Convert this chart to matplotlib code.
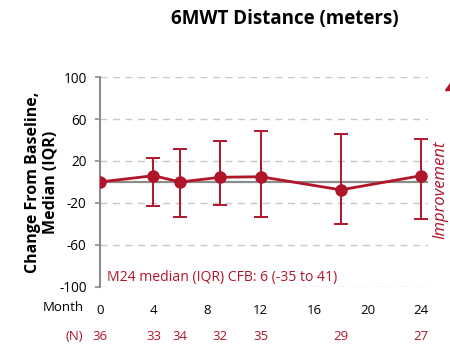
import numpy as np
import matplotlib.pyplot as plt

plt.rcParams['font.family'] = ['Open Sans', 'DejaVu Sans']
plt.rcParams['axes.unicode_minus'] = False

# data
months = [0, 4, 6, 9, 12, 18, 24]
median = [0, 6, 0, 4.5, 5, -7.5, 6]
q1 = [0, -23, -33, -21.5, -33, -40.5, -35]
q3 = [0, 22.5, 31, 39, 48.5, 46, 41]
n_pts = [36, 33, 34, 32, 35, 29, 27]
xticks = [0, 4, 8, 12, 16, 20, 24]
yticks = [-100, -60, -20, 20, 60, 100]

red = '#B0152A'
grey = '#8C8C8C'

fig = plt.figure(figsize=(4.5, 3.44), dpi=100)
ax = fig.add_axes([0.222, 0.166, 0.729, 0.61])

for y in yticks:
    ax.axhline(y, color='#C8C8C8', lw=1, ls=(0, (5, 4)), zorder=0)
ax.axhline(0, color=grey, lw=1.6, zorder=1)

med = np.array(median)
yerr = [med - np.array(q1), np.array(q3) - med]
ax.errorbar(months, median, yerr=yerr, color=red, lw=2, marker='o', ms=8,
            elinewidth=1.4, capsize=5, capthick=1.4, zorder=3)

ax.set_xlim(0, 24.5)
ax.set_ylim(-100, 100)
ax.set_yticks(yticks)
ax.set_xticks(xticks)
ax.tick_params(axis='y', labelsize=9.8, color=grey, length=3.5, width=1.2, pad=6)
ax.tick_params(axis='x', labelsize=9.5, length=0, pad=12)
for s in ['top', 'right', 'bottom']:
    ax.spines[s].set_visible(False)
ax.spines['left'].set_color(grey)
ax.spines['left'].set_linewidth(1.5)

ax.set_ylabel('Change From Baseline,\nMedian (IQR)', fontsize=11.5,
              fontweight='bold', linespacing=1.15)
ax.yaxis.set_label_coords(-0.125, 0.5)

ax.text(-0.05, -0.1, 'Month', transform=ax.transAxes, fontsize=9.5,
        ha='right', va='center')
ax.text(-0.05, -0.235, '(N)', transform=ax.transAxes, fontsize=9.5,
        ha='right', va='center', color=red)
for m, n in zip(months, n_pts):
    ax.text(m, -0.235, str(n), transform=ax.get_xaxis_transform(),
            fontsize=9.5, ha='center', va='center', color=red)

ax.text(0.5, -91, 'M24 median (IQR) CFB: 6 (-35 to 41)', fontsize=10.1,
        color=red, va='center', ha='left')

fig.text(0.979, 0.448, 'Improvement', rotation=90, fontsize=12,
         fontstyle='italic', color=red, ha='center', va='center')
fig.patches.append(plt.Polygon([[0.988, 0.738], [1.0, 0.738], [1.0, 0.76]],
                               closed=True, color=red,
                               transform=fig.transFigure, figure=fig))

fig.text(0.632, 0.945, '6MWT Distance (meters)', fontsize=13.5,
         fontweight='bold', ha='center', va='center')

fig.savefig('out.png', dpi=100)
